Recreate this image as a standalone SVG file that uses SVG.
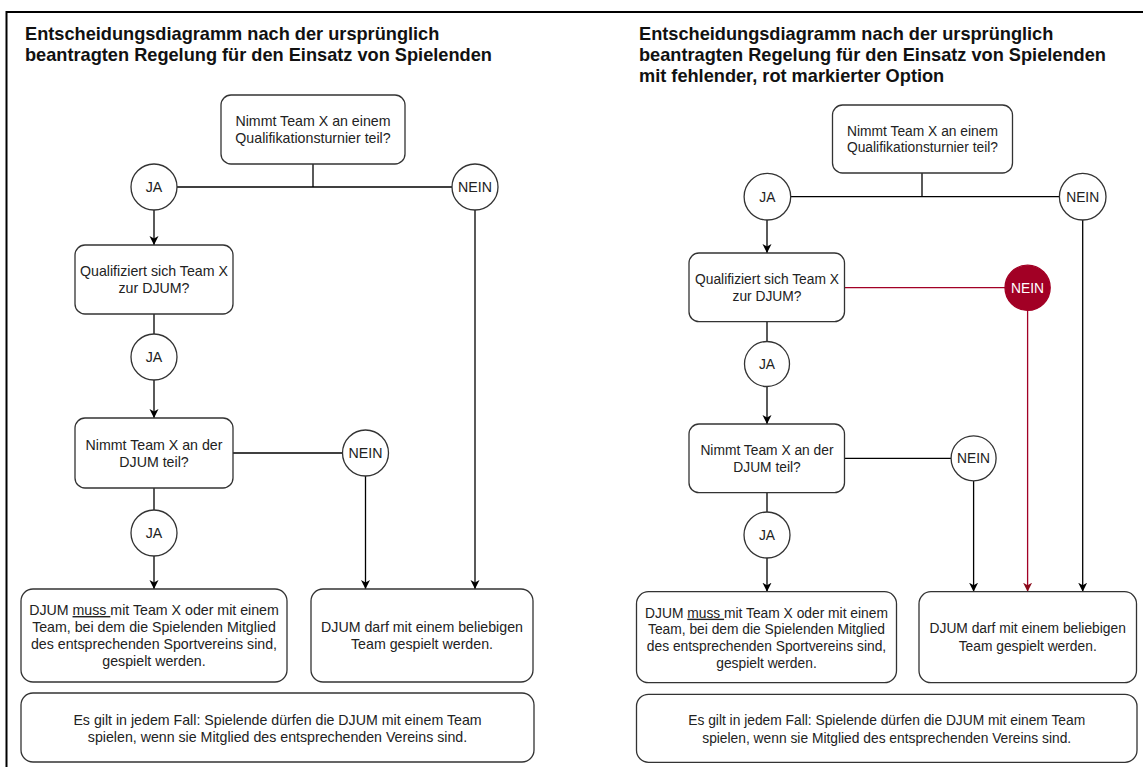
<svg xmlns="http://www.w3.org/2000/svg" width="1143" height="767" viewBox="0 0 1143 767">
<style>
  .title { font-family: "Liberation Sans", Arial, sans-serif; font-weight: bold; font-size: 18.2px; fill: #111; }
  .t { font-family: "Liberation Sans", Arial, sans-serif; font-size: 14.2px; fill: #222; text-anchor: middle; }
  .tr { font-family: "Liberation Sans", Arial, sans-serif; font-size: 13.8px; fill: #222; text-anchor: middle; }
  .box { fill: #fff; stroke: #333; stroke-width: 1.3; }
  .circ { fill: #fff; stroke: #333; stroke-width: 1.3; }
  .red { fill: #a20025; stroke: #a20025; stroke-width: 1.3; }
  .edge { fill: none; stroke: #000; stroke-width: 1.3; }
  .arrow { marker-end: url(#ah); }
  .redge { fill: none; stroke: #a20025; stroke-width: 1.3; }
  .rarrow { marker-end: url(#ahr); }
  .u { text-decoration: underline; }
</style>
<defs>
  <marker id="ah" markerUnits="userSpaceOnUse" markerWidth="10" markerHeight="10" viewBox="0 0 10 10" refX="9" refY="4.5" orient="auto">
    <path d="M0,0 L9,4.5 L0,9 L2.5,4.5 z" fill="#000"/>
  </marker>
  <marker id="ahr" markerUnits="userSpaceOnUse" markerWidth="10" markerHeight="10" viewBox="0 0 10 10" refX="9" refY="4.5" orient="auto">
    <path d="M0,0 L9,4.5 L0,9 L2.5,4.5 z" fill="#8a0a1a"/>
  </marker>
</defs>
<rect width="1143" height="767" fill="#fff"/>
<path d="M6.5,767 V12 H1143" fill="none" stroke="#000" stroke-width="2"/>

<!-- Left panel -->
<g id="left-title">
  <text class="title" x="25" y="40">Entscheidungsdiagramm nach der ursprünglich</text>
  <text class="title" x="25" y="61">beantragten Regelung für den Einsatz von Spielenden</text>
</g>

<g id="left-connectors">
  <path class="edge" d="M313,164 V187"/>
  <path class="edge" d="M177,187 H452"/>
  <path class="edge arrow" d="M154,210 V245"/>
  <path class="edge" d="M154,314 V334"/>
  <path class="edge arrow" d="M154,380 V418"/>
  <path class="edge" d="M233,453 H342.5"/>
  <path class="edge" d="M154,488 V510"/>
  <path class="edge arrow" d="M154,556 V589"/>
  <path class="edge arrow" d="M365.5,476 V589"/>
  <path class="edge arrow" d="M475,210 V589"/>
</g>

<g id="L-q1">
  <rect class="box" x="221" y="95" width="184" height="69" rx="10"/>
  <text class="t" x="313" y="126">Nimmt Team X an einem</text>
  <text class="t" x="313" y="143">Qualifikationsturnier teil?</text>
</g>
<g id="L-ja1">
  <circle class="circ" cx="154" cy="187" r="23"/>
  <text class="t" x="154" y="192">JA</text>
</g>
<g id="L-nein1">
  <circle class="circ" cx="475" cy="187" r="23"/>
  <text class="t" x="475" y="192">NEIN</text>
</g>
<g id="L-q2">
  <rect class="box" x="75" y="245" width="158" height="69" rx="10"/>
  <text class="t" x="154" y="276">Qualifiziert sich Team X</text>
  <text class="t" x="154" y="293">zur DJUM?</text>
</g>
<g id="L-ja2">
  <circle class="circ" cx="154" cy="357" r="23"/>
  <text class="t" x="154" y="362">JA</text>
</g>
<g id="L-q3">
  <rect class="box" x="75" y="418" width="158" height="70" rx="10"/>
  <text class="t" x="154" y="450">Nimmt Team X an der</text>
  <text class="t" x="154" y="467">DJUM teil?</text>
</g>
<g id="L-nein2">
  <circle class="circ" cx="365.5" cy="453" r="23"/>
  <text class="t" x="365.5" y="458">NEIN</text>
</g>
<g id="L-ja3">
  <circle class="circ" cx="154" cy="533" r="23"/>
  <text class="t" x="154" y="538">JA</text>
</g>
<g id="L-muss">
  <rect class="box" x="21" y="589" width="266" height="93" rx="12"/>
  <text class="t" x="154" y="615">DJUM <tspan class="u">muss </tspan>mit Team X oder mit einem</text>
  <text class="t" x="154" y="632">Team, bei dem die Spielenden Mitglied</text>
  <text class="t" x="154" y="649">des entsprechenden Sportvereins sind,</text>
  <text class="t" x="154" y="666">gespielt werden.</text>
</g>
<g id="L-darf">
  <rect class="box" x="311" y="589" width="222" height="93" rx="12"/>
  <text class="t" x="422" y="632">DJUM darf mit einem beliebigen</text>
  <text class="t" x="422" y="649">Team gespielt werden.</text>
</g>
<g id="L-note">
  <rect class="box" x="21" y="693" width="513" height="69" rx="12"/>
  <text class="t" x="277.5" y="724.5">Es gilt in jedem Fall: Spielende dürfen die DJUM mit einem Team</text>
  <text class="t" x="277.5" y="741.5">spielen, wenn sie Mitglied des entsprechenden Vereins sind.</text>
</g>

<!-- Right panel -->
<g id="right-title">
  <text class="title" x="639" y="40">Entscheidungsdiagramm nach der ursprünglich</text>
  <text class="title" x="639" y="61">beantragten Regelung für den Einsatz von Spielenden</text>
  <text class="title" x="639" y="82">mit fehlender, rot markierter Option</text>
</g>

<g id="right-connectors">
  <path class="edge" d="M922,173 V196.7"/>
  <path class="edge" d="M790.7,196.7 H1059.4"/>
  <path class="edge arrow" d="M767,220 V253"/>
  <path class="edge" d="M767,321.7 V341.5"/>
  <path class="edge arrow" d="M767,386.5 V424"/>
  <path class="redge" d="M844.5,287.7 H1005"/>
  <path class="redge rarrow" d="M1027.6,310.4 V591.7"/>
  <path class="edge" d="M844.5,458.3 H951.1"/>
  <path class="edge" d="M767,492.7 V512"/>
  <path class="edge arrow" d="M767,558 V591.7"/>
  <path class="edge arrow" d="M973.6,480.8 V591.7"/>
  <path class="edge arrow" d="M1082.7,220 V591.7"/>
</g>

<g id="R-q1">
  <rect class="box" x="832.5" y="105" width="180" height="68" rx="10"/>
  <text class="tr" x="922.5" y="136">Nimmt Team X an einem</text>
  <text class="tr" x="922.5" y="152">Qualifikationsturnier teil?</text>
</g>
<g id="R-ja1">
  <circle class="circ" cx="767.4" cy="196.7" r="23.3"/>
  <text class="tr" x="767.4" y="201.7">JA</text>
</g>
<g id="R-nein1">
  <circle class="circ" cx="1082.7" cy="196.7" r="23.3"/>
  <text class="tr" x="1082.7" y="201.7">NEIN</text>
</g>
<g id="R-q2">
  <rect class="box" x="689" y="253" width="155.5" height="68.7" rx="10"/>
  <text class="tr" x="767" y="284.3">Qualifiziert sich Team X</text>
  <text class="tr" x="767" y="301">zur DJUM?</text>
</g>
<g id="R-nein-red">
  <circle class="red" cx="1027.6" cy="287.8" r="22.6"/>
  <text class="tr" x="1027.6" y="292.8" fill="#fff" style="fill:#fff">NEIN</text>
</g>
<g id="R-ja2">
  <circle class="circ" cx="767" cy="364" r="22.5"/>
  <text class="tr" x="767" y="369">JA</text>
</g>
<g id="R-q3">
  <rect class="box" x="689" y="424" width="155.5" height="68.7" rx="10"/>
  <text class="tr" x="767" y="455">Nimmt Team X an der</text>
  <text class="tr" x="767" y="471.7">DJUM teil?</text>
</g>
<g id="R-nein2">
  <circle class="circ" cx="973.6" cy="458.3" r="22.5"/>
  <text class="tr" x="973.6" y="463.3">NEIN</text>
</g>
<g id="R-ja3">
  <circle class="circ" cx="767" cy="535" r="23"/>
  <text class="tr" x="767" y="540">JA</text>
</g>
<g id="R-muss">
  <rect class="box" x="636.5" y="591.7" width="260" height="91" rx="12"/>
  <text class="tr" x="766.5" y="617.7">DJUM <tspan class="u">muss </tspan>mit Team X oder mit einem</text>
  <text class="tr" x="766.5" y="634.3">Team, bei dem die Spielenden Mitglied</text>
  <text class="tr" x="766.5" y="651">des entsprechenden Sportvereins sind,</text>
  <text class="tr" x="766.5" y="667.7">gespielt werden.</text>
</g>
<g id="R-darf">
  <rect class="box" x="919" y="591.7" width="217.5" height="91" rx="12"/>
  <text class="tr" x="1027.7" y="633.3">DJUM darf mit einem beliebigen</text>
  <text class="tr" x="1027.7" y="651">Team gespielt werden.</text>
</g>
<g id="R-note">
  <rect class="box" x="636.5" y="694.3" width="500.5" height="68" rx="12"/>
  <text class="tr" x="886.7" y="725">Es gilt in jedem Fall: Spielende dürfen die DJUM mit einem Team</text>
  <text class="tr" x="886.7" y="742.7">spielen, wenn sie Mitglied des entsprechenden Vereins sind.</text>
</g>
</svg>
